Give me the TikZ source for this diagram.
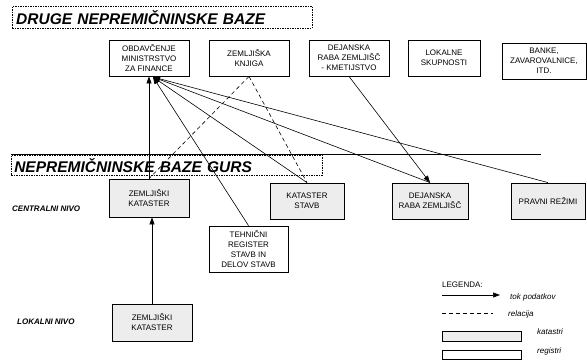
\documentclass[tikz,border=0pt]{standalone}
\usepackage{fontspec}
\setmainfont{Liberation Sans}
\usetikzlibrary{arrows.meta,calc}
\begin{document}
\begin{tikzpicture}[x=1pt,y=-1pt,
  box/.style={draw, line width=0.8pt, align=center, font=\fontsize{8}{10}\selectfont, inner sep=0pt},
  regbox/.style={box, fill=white},
  katbox/.style={box, fill=black!7},
  flow/.style={line width=0.6pt, -{Triangle[length=7pt,width=5pt]}},
  rel/.style={line width=0.6pt, dash pattern=on 4pt off 3pt},
  titlebox/.style={draw, line width=0.5pt, dash pattern=on 1.5pt off 1pt, anchor=north west, inner sep=4pt, align=left, font=\fontsize{15.5}{15.5}\selectfont\bfseries\itshape},
  lvl/.style={anchor=west, inner sep=0pt, font=\fontsize{8}{10}\selectfont\bfseries\itshape},
  leg/.style={anchor=west, inner sep=0pt, font=\fontsize{8}{10}\selectfont},
  legi/.style={anchor=west, inner sep=0pt, font=\fontsize{8}{10}\selectfont\itshape}
]
\useasboundingbox (0,0) rectangle (587,362);

% titles
\node[titlebox, minimum width=300pt, minimum height=17pt, text width=292pt] (t1) at (12,6) {DRUGE NEPREMIČNINSKE BAZE};
\node[titlebox, minimum width=311pt, minimum height=16pt, text width=305pt, inner sep=3pt] (t2) at (11,155) {NEPREMIČNINSKE BAZE GURS};
\coordinate (hl1) at (11,154);
\coordinate (hl2) at (541,154);
\draw[line width=0.8pt] (hl1) -- (hl2);

% top row
\node[regbox, minimum width=80pt, minimum height=36pt] (obd) at (149,58) {OBDAVČENJE\\MINISTRSTVO\\ZA FINANCE};
\node[regbox, minimum width=80pt, minimum height=36pt] (zk) at (249,58) {ZEMLJIŠKA\\KNJIGA};
\node[regbox, minimum width=80pt, minimum height=36pt] (dk) at (349,58) {DEJANSKA\\RABA ZEMLJIŠČ\\- KMETIJSTVO};
\node[regbox, minimum width=72pt, minimum height=36pt] (lok) at (444,58) {LOKALNE\\SKUPNOSTI};
\node[regbox, minimum width=84pt, minimum height=36pt] (ban) at (544,61) {BANKE,\\ZAVAROVALNICE,\\ITD.};

% central row
\node[katbox, minimum width=80pt, minimum height=38pt] (zkc) at (149,198) {ZEMLJIŠKI\\KATASTER};
\node[katbox, minimum width=74pt, minimum height=36pt] (ks) at (307,201) {KATASTER\\STAVB};
\node[katbox, minimum width=76pt, minimum height=36pt] (drz) at (430,201) {DEJANSKA\\RABA ZEMLJIŠČ};
\node[katbox, minimum width=74pt, minimum height=36pt] (pr) at (548,201) {PRAVNI REŽIMI};
\node[regbox, minimum width=79pt, minimum height=46pt] (teh) at (248.5,249) {TEHNIČNI\\REGISTER\\STAVB IN\\DELOV STAVB};

% local
\node[katbox, minimum width=80pt, minimum height=37pt] (zkl) at (152,322.5) {ZEMLJIŠKI\\KATASTER};

% level labels
\node[lvl] (cn) at (12,209) {CENTRALNI NIVO};
\node[lvl] (ln) at (17,322) {LOKALNI NIVO};

% connectors
\coordinate (hub) at (153,77);
\draw[rel] (zk.south) -- (zkc.north);
\draw[rel] (zk.south) -- (ks.north);
\draw[flow] (zkc.north) -- (zkc.north |- obd.south);
\draw[flow] (teh.north) -- (hub);
\draw[flow] (ks.north) -- (hub);
\draw[flow] (drz.north) -- (hub);
\draw[flow] (pr.north) -- (hub);
\draw[flow] (dk.south) -- (drz.north);
\draw[flow] (zkl.north) -- (zkl.north |- zkc.south);

% legend
\node[leg] (lg) at (442,285) {LEGENDA:};
\coordinate (la1) at (442,295);
\coordinate (la2) at (500,295);
\draw[flow] (la1) -- (la2);
\node[legi] (lt) at (510,297) {tok podatkov};
\coordinate (ld1) at (442,313);
\coordinate (ld2) at (493,313);
\draw[rel] (ld1) -- (ld2);
\node[legi] (lr) at (508,314) {relacija};
\node[katbox, minimum width=79pt, minimum height=10pt, anchor=north west] (lk) at (442,331) {};
\node[legi] (lkt) at (537,332) {katastri};
\node[regbox, minimum width=79pt, minimum height=9pt, anchor=north west] (lrg) at (442,350) {};
\node[legi] (lrt) at (537,351) {registri};
\end{tikzpicture}
\end{document}
